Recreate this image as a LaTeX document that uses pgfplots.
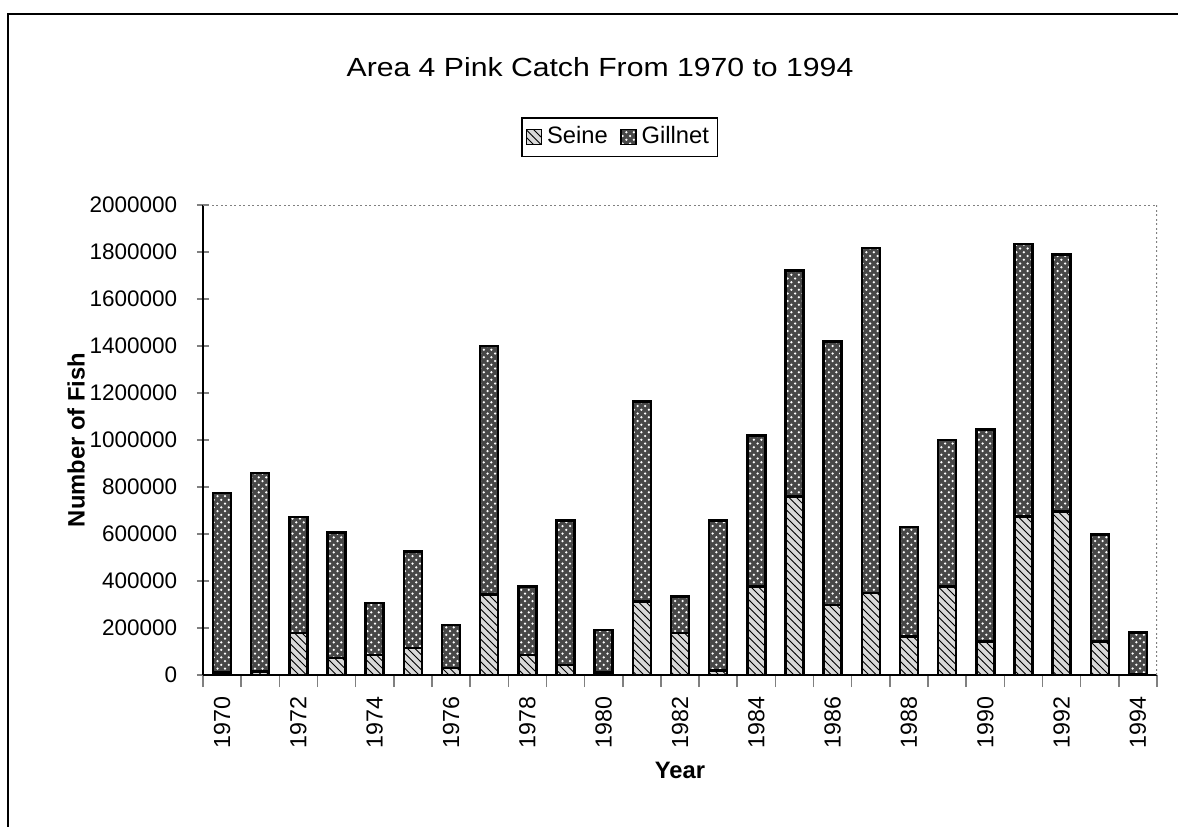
\documentclass[border=0pt]{standalone}
\usepackage{fontspec}
\setmainfont{Liberation Sans}
\usepackage{pgfplots}
\pgfplotsset{compat=1.18}
\usetikzlibrary{patterns}

% seine / gillnet catch per year
\pgfplotstableread{
year seine gillnet
1970 10000 765000
1971 15000 845000
1972 178000 494000
1973 72000 535000
1974 85000 221000
1975 115000 411000
1976 30000 183000
1977 342000 1058000
1978 85000 292000
1979 43000 614000
1980 10000 182000
1981 313000 850000
1982 178000 156000
1983 20000 637000
1984 377000 643000
1985 760000 962000
1986 298000 1122000
1987 348000 1470000
1988 163000 467000
1989 377000 623000
1990 142000 903000
1991 675000 1160000
1992 696000 1094000
1993 142000 455000
1994 5000 175000
}\catch

\begin{document}
\begin{tikzpicture}
\useasboundingbox (-81.2pt,-60.4pt) rectangle (390pt,270pt);
\draw[line width=0.8pt] (-78pt,-62pt) -- (-78pt,264.4pt) -- (392pt,264.4pt);
\begin{axis}[
  at={(0,0)}, anchor=south west,
  scale only axis, width=381.6pt, height=188pt,
  ybar stacked, bar width=7.2pt,
  xmin=1969.5, xmax=1994.5, ymin=0, ymax=2000000,
  axis lines*=left,
  axis line style={-, line width=0.8pt},
  xtick={1969.5,1970.5,...,1994.5}, xticklabels={},
  x tick style={line width=0.6pt},
  xtick align=outside,
  extra x ticks={1970,1972,...,1994},
  extra x tick labels={1970,1972,1974,1976,1978,1980,1982,1984,1986,1988,1990,1992,1994},
  extra x tick style={major tick length=0pt},
  xticklabel style={rotate=90, anchor=east, font=\fontsize{9.3}{11}\selectfont},
  xticklabel shift=5pt,
  ytick={0,200000,...,2000000},
  ytick align=center,
  major tick length=4.8pt,
  y tick style={line width=0.6pt},
  scaled y ticks=false,
  yticklabel shift=4.4pt,
  yticklabel style={font=\fontsize{9}{11}\selectfont,
    /pgf/number format/fixed, /pgf/number format/1000 sep={},
    /pgf/number format/assume math mode=true},
  xlabel={Year}, ylabel={Number of Fish},
  xlabel style={font=\bfseries\fontsize{9.5}{11}\selectfont, at={(axis description cs:0.5,-0.202)}, anchor=center},
  ylabel style={font=\bfseries\fontsize{9.5}{11}\selectfont, at={(axis description cs:-0.133,0.5)}, anchor=center},
  legend style={at={(0.437,1.102)}, anchor=south, legend columns=2,
    draw=black, line width=0.6pt, font=\fontsize{9.5}{11}\selectfont, inner sep=1.5pt,
    /tikz/every even column/.append style={column sep=3pt}},
  legend image code/.code={\draw[#1, line width=0.5pt] (0pt,-3pt) rectangle (6pt,3pt);},
]
\addplot[draw=black, line width=1pt, fill=gray!30,
  postaction={pattern=north west lines, pattern color=black}]
  table[x=year, y=seine] {\catch};
\addlegendentry{Seine}
\addplot[draw=black, line width=1pt, fill=black!72,
  postaction={pattern=crosshatch dots, pattern color=white}]
  table[x=year, y=gillnet] {\catch};
\addlegendentry{Gillnet}
\draw[gray, densely dotted, line width=0.8pt] (rel axis cs:0,1) -- (rel axis cs:1,1) -- (rel axis cs:1,0);
\end{axis}
\node[font=\fontsize{10.5}{13}\selectfont] at (158.8pt,243pt) {\scalebox{1.15}[1]{Area 4 Pink Catch From 1970 to 1994}};
\end{tikzpicture}
\end{document}
